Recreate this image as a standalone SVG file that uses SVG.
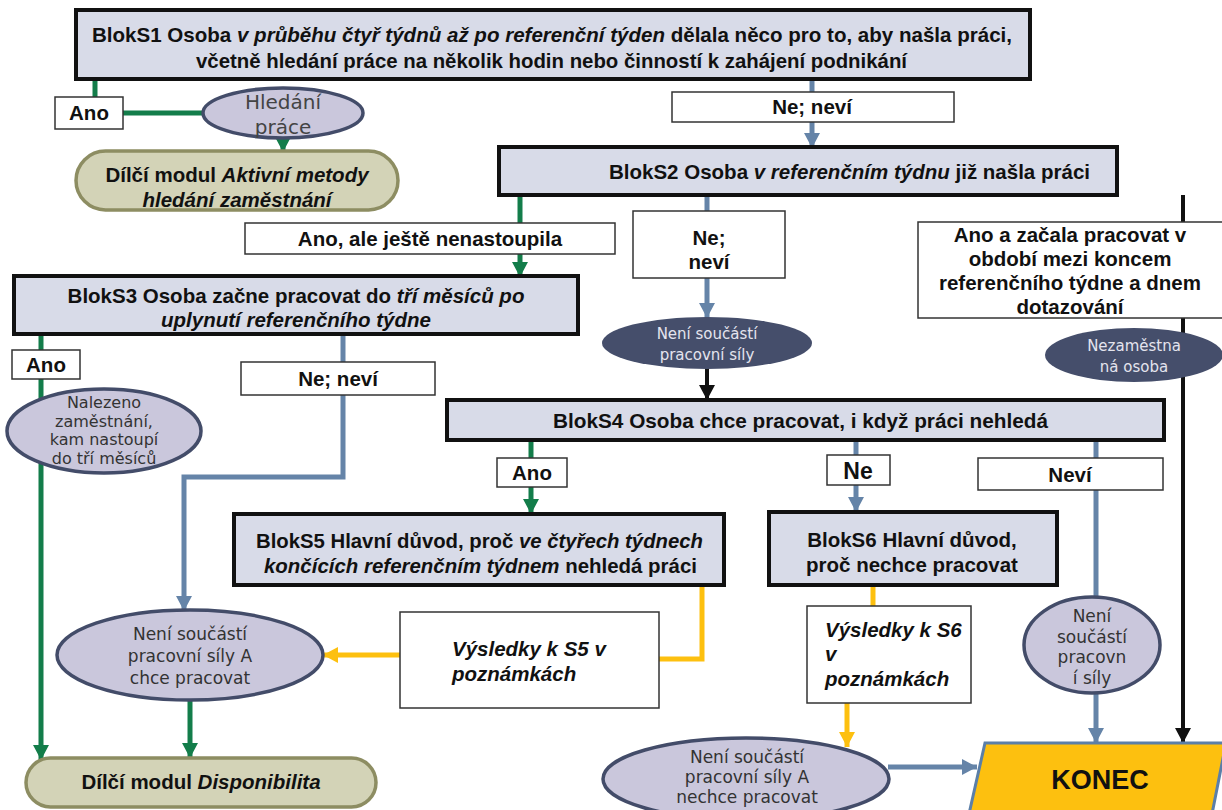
<svg xmlns="http://www.w3.org/2000/svg" width="1222" height="810" viewBox="0 0 1222 810">
<defs>
<style>
.blk{fill:#d8dbe8;stroke:#111;stroke-width:4}
.lbl{fill:#fff;stroke:#333;stroke-width:1.5}
.lav{fill:#cac7dc;stroke:#434c69;stroke-width:3.5}
.dark{fill:#454e6b;stroke:none}
.kh{fill:#d3d3b7;stroke:#8d8d62;stroke-width:3.5}
.b{font-family:"Liberation Sans",Arial,sans-serif;font-weight:bold;font-size:20.5px;fill:#111}
.c{text-anchor:middle}
.i{font-style:italic}
.e{font-family:"DejaVu Sans",Verdana,sans-serif;font-size:16px;fill:#333;text-anchor:middle}
.ed{font-family:"DejaVu Sans",Verdana,sans-serif;font-size:15px;fill:#e4e4ee;text-anchor:middle}
.g{stroke:#137d4a;stroke-width:5;fill:none}
.u{stroke:#6584a8;stroke-width:5;fill:none}
.k{stroke:#111;stroke-width:4;fill:none}
.y{stroke:#fdc00f;stroke-width:5;fill:none}
</style>
<marker id="ag" markerUnits="userSpaceOnUse" markerWidth="16" markerHeight="16" refX="15" refY="8" orient="auto"><path d="M0,0 L15,8 L0,16 z" fill="#137d4a"/></marker>
<marker id="au" markerUnits="userSpaceOnUse" markerWidth="16" markerHeight="16" refX="15" refY="8" orient="auto"><path d="M0,0 L15,8 L0,16 z" fill="#6584a8"/></marker>
<marker id="ak" markerUnits="userSpaceOnUse" markerWidth="16" markerHeight="16" refX="15" refY="8" orient="auto"><path d="M0,0 L15,8 L0,16 z" fill="#111"/></marker>
<marker id="ay" markerUnits="userSpaceOnUse" markerWidth="16" markerHeight="16" refX="15" refY="8" orient="auto"><path d="M0,0 L15,8 L0,16 z" fill="#fdc00f"/></marker>
</defs>
<rect width="1222" height="810" fill="#fff"/>

<g id="connectors">
<path class="g" d="M95,79 V97"/>
<path class="g" d="M123,113 H203"/>
<path class="g" d="M283,138 V152" marker-end="url(#ag)"/>
<path class="g" d="M520,195 V223"/>
<path class="g" d="M520,254 V277" marker-end="url(#ag)"/>
<path class="g" d="M41,334 V350"/>
<path class="g" d="M41,379 V760" marker-end="url(#ag)"/>
<path class="g" d="M190,700 V758" marker-end="url(#ag)"/>
<path class="g" d="M531,440 V458"/>
<path class="g" d="M531,487 V514" marker-end="url(#ag)"/>
<path class="u" d="M812,79 V92"/>
<path class="u" d="M812,122 V148" marker-end="url(#au)"/>
<path class="u" d="M707,195 V211"/>
<path class="u" d="M707,278 V318" marker-end="url(#au)"/>
<path class="u" d="M343,334 V362"/>
<path class="u" d="M343,395 V477 H184 V611" marker-end="url(#au)"/>
<path class="u" d="M856,440 V455"/>
<path class="u" d="M856,485 V512" marker-end="url(#au)"/>
<path class="u" d="M1096,440 V458"/>
<path class="u" d="M1096,490 V600"/>
<path class="u" d="M1096,690 V743" marker-end="url(#au)"/>
<path class="u" d="M888,767 H977" marker-end="url(#au)"/>
<path class="k" d="M707,368 V400" marker-end="url(#ak)"/>
<path class="k" d="M1183,195 V222"/>
<path class="k" d="M1183,318 V743" marker-end="url(#ak)"/>
<path class="y" d="M702,585 V659 H659"/>
<path class="y" d="M400,655 H323" marker-end="url(#ay)"/>
<path class="y" d="M873,585 V606"/>
<path class="y" d="M847,703 V747" marker-end="url(#ay)"/>
</g>

<g id="blokS1">
<rect class="blk" x="76" y="10" width="954" height="69"/>
<text class="b" x="92" y="42" textLength="920" lengthAdjust="spacingAndGlyphs">BlokS1 Osoba <tspan class="i">v průběhu čtyř týdnů až po referenční týden</tspan> dělala něco pro to, aby našla práci,</text>
<text class="b" x="196" y="68" textLength="711" lengthAdjust="spacingAndGlyphs">včetně hledání práce na několik hodin nebo činností k zahájení podnikání</text>
</g>

<g id="ano1">
<rect class="lbl" x="55" y="97" width="68" height="32"/>
<text class="b c" x="89" y="120">Ano</text>
</g>

<g id="hledani">
<ellipse class="lav" cx="283" cy="113" rx="80" ry="25"/>
<text class="e" x="283" y="109" style="font-size:20px;fill:#444">Hledání</text>
<text class="e" x="283" y="134" style="font-size:20px;fill:#444">práce</text>
</g>

<g id="aktivni">
<rect class="kh" x="76" y="151" width="322" height="59" rx="29.5"/>
<text class="b c" x="237" y="182">Dílčí modul <tspan class="i">Aktivní metody</tspan></text>
<text class="b c i" x="237" y="207">hledání zaměstnání</text>
</g>

<g id="ne1">
<rect class="lbl" x="672" y="92" width="282" height="30"/>
<text class="b c" x="812" y="114">Ne; neví</text>
</g>

<g id="blokS2">
<rect class="blk" x="499" y="147" width="618" height="48"/>
<text class="b" x="609" y="179" textLength="481" lengthAdjust="spacingAndGlyphs">BlokS2 Osoba <tspan class="i">v referenčním týdnu</tspan> již našla práci</text>
</g>

<g id="anoAle">
<rect class="lbl" x="245" y="223" width="370" height="31"/>
<text class="b c" x="430" y="246">Ano, ale ještě nenastoupila</text>
</g>

<g id="ne2">
<rect class="lbl" x="633" y="211" width="152" height="67"/>
<text class="b c" x="709" y="245">Ne;</text>
<text class="b c" x="709" y="269">neví</text>
</g>

<g id="anoZacala">
<rect class="lbl" x="918" y="222" width="310" height="96"/>
<text class="b c" x="1070" y="242">Ano a začala pracovat v</text>
<text class="b c" x="1070" y="266">období mezi koncem</text>
<text class="b c" x="1070" y="290">referenčního týdne a dnem</text>
<text class="b c" x="1070" y="314">dotazování</text>
</g>

<g id="neniSoucasti1">
<ellipse class="dark" cx="707" cy="343" rx="105" ry="26"/>
<text class="ed" x="707" y="339">Není součástí</text>
<text class="ed" x="707" y="360">pracovní síly</text>
</g>

<g id="nezamestnana">
<ellipse class="dark" cx="1134" cy="355" rx="89" ry="27"/>
<text class="ed" x="1134" y="351">Nezaměstna</text>
<text class="ed" x="1134" y="372">ná osoba</text>
</g>

<g id="blokS3">
<rect class="blk" x="14" y="276" width="564" height="58"/>
<text class="b c" x="296" y="303">BlokS3 Osoba začne pracovat do <tspan class="i">tří měsíců po</tspan></text>
<text class="b c i" x="296" y="327">uplynutí referenčního týdne</text>
</g>

<g id="ano2">
<rect class="lbl" x="12" y="350" width="68" height="29"/>
<text class="b c" x="46" y="372">Ano</text>
</g>

<g id="nalezeno">
<ellipse class="lav" cx="104" cy="431" rx="97" ry="42"/>
<text class="e" x="104" y="408">Nalezeno</text>
<text class="e" x="104" y="427">zaměstnání,</text>
<text class="e" x="104" y="445">kam nastoupí</text>
<text class="e" x="104" y="464">do tří měsíců</text>
</g>

<g id="ne3">
<rect class="lbl" x="241" y="362" width="194" height="33"/>
<text class="b c" x="338" y="386">Ne; neví</text>
</g>

<g id="blokS4">
<rect class="blk" x="447" y="400" width="717" height="40"/>
<text class="b" x="553" y="428" textLength="495" lengthAdjust="spacingAndGlyphs">BlokS4 Osoba chce pracovat, i když práci nehledá</text>
</g>

<g id="ano3">
<rect class="lbl" x="497" y="458" width="70" height="29"/>
<text class="b c" x="532" y="480">Ano</text>
</g>

<g id="ne4">
<rect class="lbl" x="827" y="455" width="63" height="30"/>
<text class="b c" x="858" y="479" style="font-size:23px">Ne</text>
</g>

<g id="nevi">
<rect class="lbl" x="978" y="458" width="185" height="32"/>
<text class="b c" x="1070" y="482">Neví</text>
</g>

<g id="blokS5">
<rect class="blk" x="234" y="514" width="490" height="71"/>
<text class="b" x="256" y="548" textLength="447" lengthAdjust="spacingAndGlyphs">BlokS5 Hlavní důvod, proč <tspan class="i">ve čtyřech týdnech</tspan></text>
<text class="b" x="264" y="573" textLength="433" lengthAdjust="spacingAndGlyphs"><tspan class="i">končících  referenčním  týdnem</tspan> nehledá práci</text>
</g>

<g id="blokS6">
<rect class="blk" x="769" y="512" width="288" height="73"/>
<text class="b c" x="912" y="547">BlokS6 Hlavní důvod,</text>
<text class="b c" x="912" y="572">proč nechce pracovat</text>
</g>

<g id="vysledkyS5">
<rect class="lbl" x="400" y="612" width="259" height="96"/>
<text class="b i" x="452" y="656">Výsledky k S5 v</text>
<text class="b i" x="452" y="681">poznámkách</text>
</g>

<g id="vysledkyS6">
<rect class="lbl" x="807" y="606" width="164" height="97"/>
<text class="b i" x="825" y="637">Výsledky k S6</text>
<text class="b i" x="825" y="661">v</text>
<text class="b i" x="825" y="686">poznámkách</text>
</g>

<g id="chcePracovat">
<ellipse class="lav" cx="190" cy="655" rx="133" ry="45"/>
<text class="e" x="190" y="640" style="font-size:17px">Není součástí</text>
<text class="e" x="190" y="662" style="font-size:17px">pracovní síly A</text>
<text class="e" x="190" y="684" style="font-size:17px">chce pracovat</text>
</g>

<g id="neniSoucasti2">
<ellipse class="lav" cx="1092" cy="645" rx="68" ry="48"/>
<text class="e" x="1092" y="622" style="font-size:17px">Není</text>
<text class="e" x="1092" y="643" style="font-size:17px">součástí</text>
<text class="e" x="1092" y="663" style="font-size:17px">pracovn</text>
<text class="e" x="1092" y="684" style="font-size:17px">í síly</text>
</g>

<g id="nechcePracovat">
<ellipse class="lav" cx="746" cy="779" rx="143" ry="41"/>
<text class="e" x="747" y="763" style="font-size:17px">Není součástí</text>
<text class="e" x="747" y="783" style="font-size:17px">pracovní síly A</text>
<text class="e" x="747" y="803" style="font-size:17px">nechce pracovat</text>
</g>

<g id="disponibilita">
<rect class="kh" x="26" y="758" width="350" height="49" rx="24.5"/>
<text class="b c" x="201" y="789">Dílčí modul <tspan class="i">Disponibilita</tspan></text>
</g>

<g id="konec">
<polygon points="985,743 1226,743 1212,814 969,814" fill="#fdc00f" stroke="#5b7fa8" stroke-width="3"/>
<text class="b c" x="1100" y="789" style="font-size:27px">KONEC</text>
</g>
</svg>
